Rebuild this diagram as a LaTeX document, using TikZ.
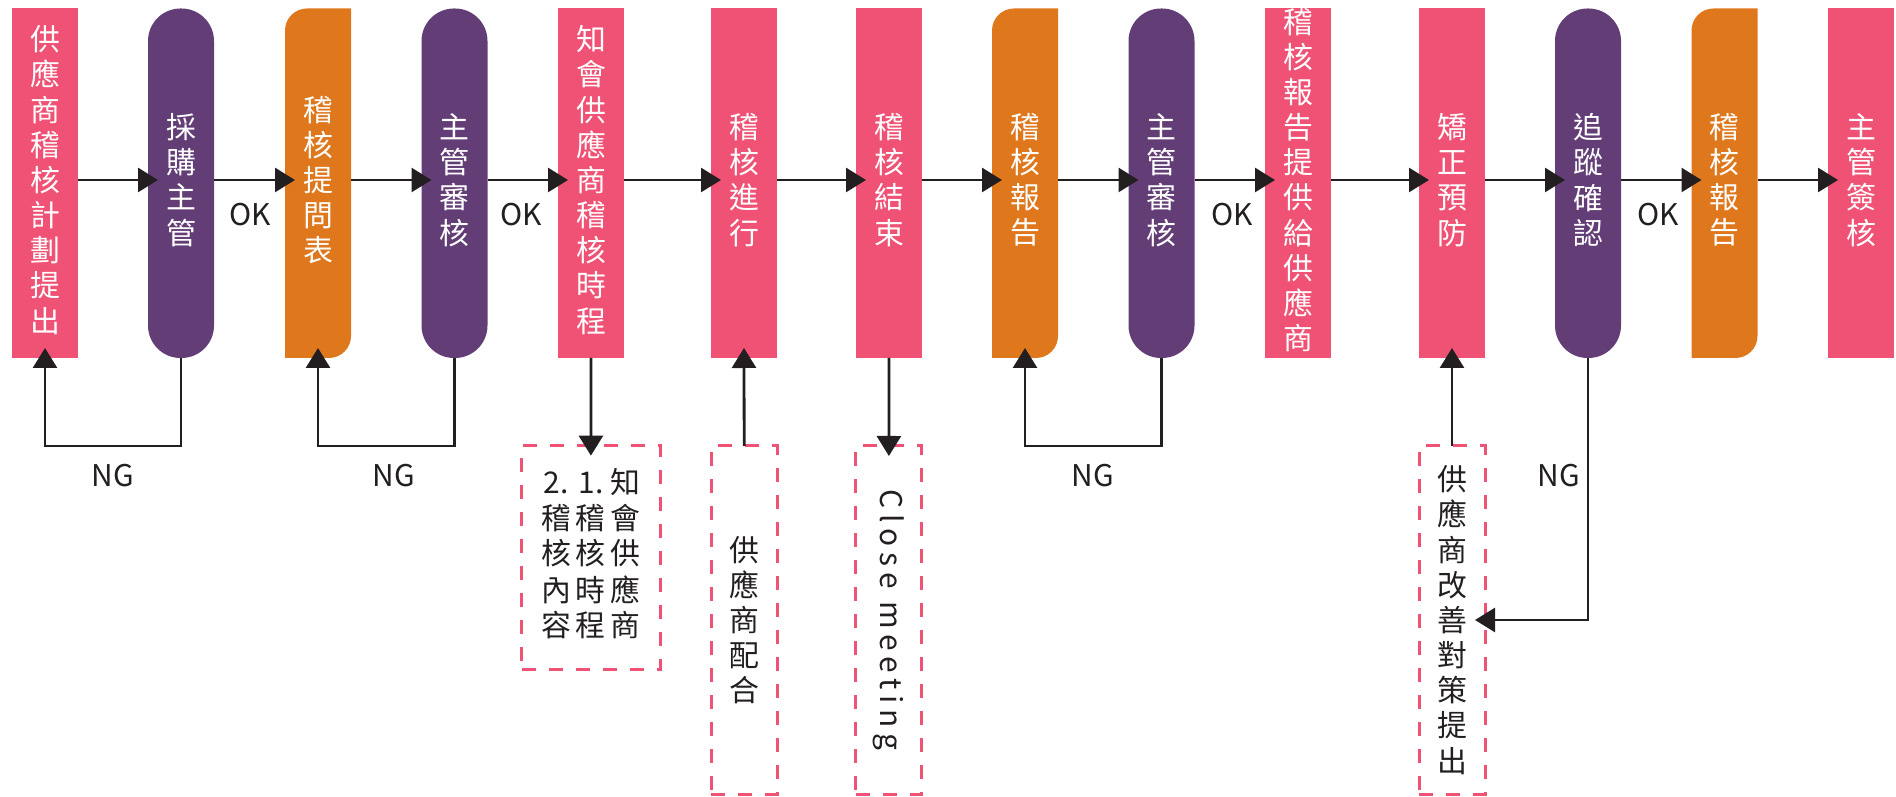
\documentclass[tikz,border=0pt]{standalone}
\usepackage{fontspec}
\setmainfont{Noto Sans CJK TC}
\usetikzlibrary{arrows.meta,calc}
\definecolor{cpink}{HTML}{EF5274}
\definecolor{cpurple}{HTML}{633E76}
\definecolor{corange}{HTML}{DF771C}
\definecolor{cdark}{HTML}{231F20}
\newcommand\orshape[1]{%
  \fill[corange] (#1.south west) -- ([yshift=-22bp]#1.north west)
    arc[start angle=180,end angle=90,radius=22bp] -- (#1.north east)
    -- ([yshift=22bp]#1.south east)
    arc[start angle=0,end angle=-90,radius=22bp] -- cycle;}
\tikzset{
  box/.style={minimum width=66bp, minimum height=349.5bp, inner sep=0pt, outer sep=0pt},
  pinkbox/.style={box, fill=cpink},
  purplebox/.style={box, fill=cpurple, rounded corners=32.5bp},
  btext/.style={text=white, font=\fontsize{30}{35.3}\selectfont, align=center, inner sep=0pt},
  dbox/.style={draw=cpink, line width=3bp, dash pattern=on 14bp off 13bp, inner sep=0pt, outer sep=0pt,
    text=cdark, font=\fontsize{30}{35.3}\selectfont, align=center},
  arr/.style={draw=cdark, line width=2.8bp, -{Triangle[length=20bp,width=24bp]}, shorten >=-10bp},
  lbl/.style={text=cdark, font=\fontsize{30}{36}\selectfont, inner sep=0pt},
}
\begin{document}
\begin{tikzpicture}[x=1bp,y=1bp]
\useasboundingbox (0,0) rectangle (1896,797);
\coordinate (ay) at (0,617);
\coordinate (ly) at (0,351);
% boxes
\node[pinkbox]   (b1)  at (45,613.75) {};
\node[purplebox] (b2)  at (181,613.75) {};
\node[box]       (b3)  at (318,613.75) {}; \orshape{b3}
\node[purplebox] (b4)  at (454.5,613.75) {};
\node[pinkbox]   (b5)  at (591,613.75) {};
\node[pinkbox]   (b6)  at (744,613.75) {};
\node[pinkbox]   (b7)  at (889,613.75) {};
\node[box]       (b8)  at (1025,613.75) {}; \orshape{b8}
\node[purplebox] (b9)  at (1161.5,613.75) {};
\node[pinkbox]   (b10) at (1298,613.75) {};
\node[pinkbox]   (b11) at (1452,613.75) {};
\node[purplebox] (b12) at (1588,613.75) {};
\node[box]       (b13) at (1724.5,613.75) {}; \orshape{b13}
\node[pinkbox]   (b14) at (1861,613.75) {};
% box texts
\node[btext] (t1)  at (b1.center  |- ay) {供\\應\\商\\稽\\核\\計\\劃\\提\\出};
\node[btext] (t2)  at (b2.center  |- ay) {採\\購\\主\\管};
\node[btext] (t3)  at (b3.center  |- ay) {稽\\核\\提\\問\\表};
\node[btext] (t4)  at (b4.center  |- ay) {主\\管\\審\\核};
\node[btext] (t5)  at (b5.center  |- ay) {知\\會\\供\\應\\商\\稽\\核\\時\\程};
\node[btext] (t6)  at (b6.center  |- ay) {稽\\核\\進\\行};
\node[btext] (t7)  at (b7.center  |- ay) {稽\\核\\結\\束};
\node[btext] (t8)  at (b8.center  |- ay) {稽\\核\\報\\告};
\node[btext] (t9)  at (b9.center  |- ay) {主\\管\\審\\核};
\node[btext] (t10) at (b10.center |- ay) {稽\\核\\報\\告\\提\\供\\給\\供\\應\\商};
\node[btext] (t11) at (b11.center |- ay) {矯\\正\\預\\防};
\node[btext] (t12) at (b12.center |- ay) {追\\蹤\\確\\認};
\node[btext] (t13) at (b13.center |- ay) {稽\\核\\報\\告};
\node[btext] (t14) at (b14.center |- ay) {主\\管\\簽\\核};
% dashed boxes
\node[dbox, minimum width=138.3bp, minimum height=224.3bp] (dA) at (590.9,239.2)
  {\begin{tabular}{@{}c@{\hspace{5bp}}c@{\hspace{5bp}}c@{}}
   2. & 1. & 知\\ 稽 & 稽 & 會\\ 核 & 核 & 供\\ 內 & 時 & 應\\ 容 & 程 & 商
   \end{tabular}};
\node[dbox, minimum width=66bp, minimum height=348bp] (dB) at (744.2,177) {供\\應\\商\\配\\合};
\node[dbox, minimum width=66bp, minimum height=348bp] (dC) at (888.9,177) {};
\node[rotate=-90, text=cdark, inner sep=0pt, font=\fontsize{30}{36}\selectfont\addfontfeatures{LetterSpace=19}] (tC) at (dC.center) {Close meeting};
\node[dbox, minimum width=66bp, minimum height=348bp] (dD) at (1452,177) {供\\應\\商\\改\\善\\對\\策\\提\\出};
% main flow arrows
\foreach \a/\b in {b1/b2,b2/b3,b3/b4,b4/b5,b5/b6,b6/b7,b7/b8,b8/b9,b9/b10,b10/b11,b11/b12,b12/b13,b13/b14}
  \draw[arr] (\a.east |- ay) -- (\b.west |- ay);
% OK labels
\node[lbl] (ok1) at (250,582) {OK};
\node[lbl] (ok2) at (521,582) {OK};
\node[lbl] (ok3) at (1232,582) {OK};
\node[lbl] (ok4) at (1658,582) {OK};
% NG loops
\draw[arr] (b2.south) -- (b2.south |- ly) -| (b1.south);
\draw[arr] (b4.south) -- (b4.south |- ly) -| (b3.south);
\draw[arr] (b9.south) -- (b9.south |- ly) -| (b8.south);
\draw[arr] (b12.south) |- (dD.east);
\node[lbl] (ng1) at (113,321) {NG};
\node[lbl] (ng2) at (394,321) {NG};
\node[lbl] (ng3) at (1093,321) {NG};
\node[lbl] (ng4) at (1559,321) {NG};
% side notes
\draw[arr] (b5.south) -- (dA.north);
\draw[arr] (dB.north) -- (b6.south);
\draw[arr] (b7.south) -- (dC.north);
\draw[arr] (dD.north) -- (b11.south);
\end{tikzpicture}
\end{document}
